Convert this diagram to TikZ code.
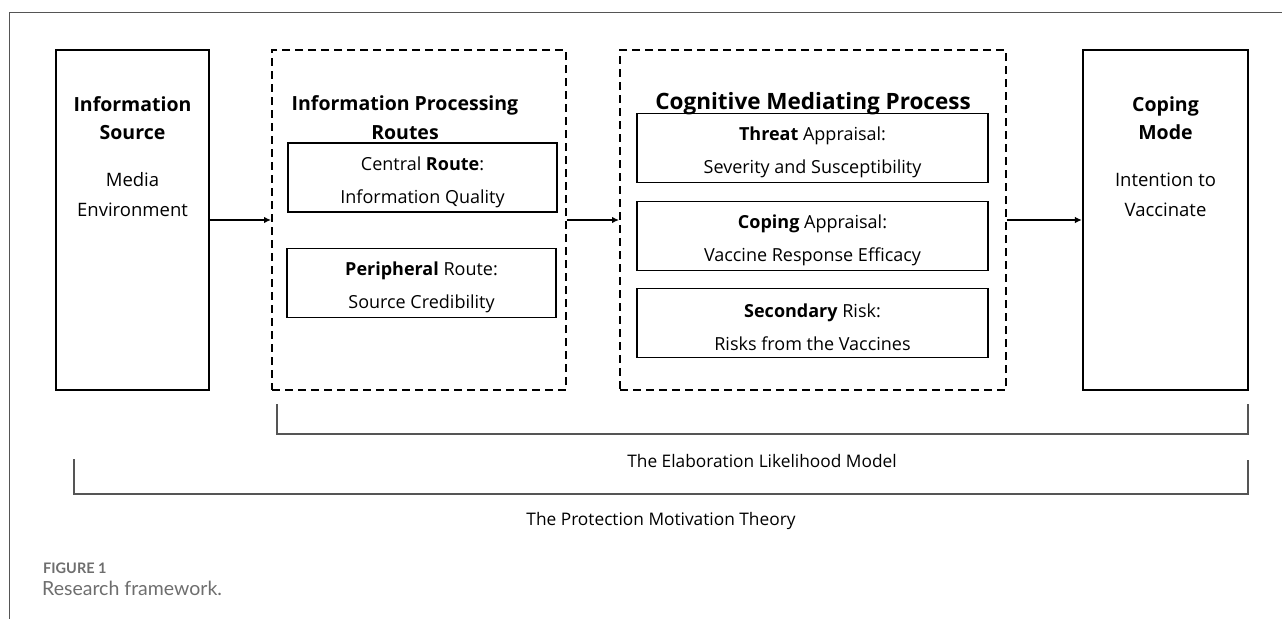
\documentclass[tikz,border=0pt]{standalone}
\usepackage{fontspec}
\setmainfont{Open Sans}
\newfontfamily\capfont{Lato}
\usetikzlibrary{arrows.meta}

\definecolor{framegray}{RGB}{85,85,85}
\definecolor{capgray}{RGB}{110,110,110}

\tikzset{
  stagebox/.style={draw, line width=2.1pt, minimum height=340pt, inner sep=0pt},
  routebox/.style={stagebox, line width=1.9pt, dash pattern=on 8pt off 5pt},
  innerbox/.style={draw, line width=1.9pt, minimum height=69pt, inner sep=0pt},
  boxtext/.style={align=center, yshift=-4.5pt, font=\fontsize{18}{33}\selectfont},
  heading/.style={font=\bfseries\fontsize{19.5}{28.5}\selectfont, align=center},
  plaintext/.style={font=\fontsize{18.5}{30}\selectfont, align=center},
  theory/.style={font=\fontsize{17.3}{20}\selectfont},
  flow/.style={line width=2pt, -{Latex[length=7pt,width=6.5pt]}},
  bracket/.style={line width=1.4pt, draw=framegray},
}

\begin{document}
\begin{tikzpicture}[x=1pt,y=-1pt]
    \useasboundingbox (0,0) rectangle (1282,619);
    \draw[framegray, line width=1pt] (1282,12) -- (9.5,12) -- (9.5,619) ;

    % stages
    \node[stagebox, minimum width=153pt] (src) at (132.5,220) {};
    \node[routebox, minimum width=294pt] (routes) at (419,220) {};
    \node[routebox, minimum width=386pt] (cmp) at (813,220) {};
    \node[stagebox, minimum width=165pt] (mode) at (1165.5,220) {};

    \node[heading] (src-t) at (132.5,118) {Information\\Source};
    \node[plaintext] (src-c) at (132.5,195) {Media\\Environment};
    \node[heading] (routes-t) at (405,117.5) {Information Processing\\Routes};
    \node[heading, font=\bfseries\fontsize{22.5}{29}\selectfont] (cmp-t) at (813,104)
        {Cognitive Mediating Process};
    \node[heading] (mode-t) at (1165.5,118) {Coping\\Mode};
    \node[plaintext] (mode-c) at (1165.5,195) {Intention to\\Vaccinate};

    % routes
    \node[innerbox, minimum width=269pt] (central) at (422.5,177.5) {};
    \node[boxtext] (central-t) at (central) {Central \textbf{Route}:\\Information Quality};
    \node[innerbox, minimum width=269pt] (periph) at (421.5,283) {};
    \node[boxtext] (periph-t) at (periph) {\textbf{Peripheral} Route:\\Source Credibility};

    % appraisals
    \node[innerbox, minimum width=351pt] (threat) at (812.5,148) {};
    \node[boxtext] (threat-t) at (threat) {\textbf{Threat} Appraisal:\\Severity and Susceptibility};
    \node[innerbox, minimum width=351pt] (copeapp) at (812.5,236) {};
    \node[boxtext] (copeapp-t) at (copeapp) {\textbf{Coping} Appraisal:\\Vaccine Response Efficacy};
    \node[innerbox, minimum width=351pt] (second) at (812.5,323) {};
    \node[boxtext] (second-t) at (second) {\textbf{Secondary} Risk:\\Risks from the Vaccines};

    \draw[flow] (src) -- (routes) ;
    \draw[flow] (routes) -- (cmp) ;
    \draw[flow] (cmp) -- (mode) ;

    % theories
    \coordinate (elm-l) at (277,404) ;
    \coordinate (elm-r) at (1248,404) ;
    \draw[bracket] (elm-l) |- (1248,434) -- (elm-r) ;
    \node[theory] (elm) at (762,461) {The Elaboration Likelihood Model};
    \coordinate (pmt-l) at (74,459) ;
    \coordinate (pmt-r) at (1248,460) ;
    \draw[bracket] (pmt-l) |- (1248,494) -- (pmt-r) ;
    \node[theory] (pmt) at (661,521) {The Protection Motivation Theory};

    \node[anchor=west, inner sep=0pt, text=capgray, font=\capfont\bfseries\fontsize{14.5}{16}\selectfont] (fig) at (43,568) {FIGURE 1};
    \node[anchor=west, inner sep=0pt, text=capgray, font=\capfont\fontsize{19.5}{22}\selectfont] (cap) at (42,588) {Research framework.};

\end{tikzpicture}
\end{document}
